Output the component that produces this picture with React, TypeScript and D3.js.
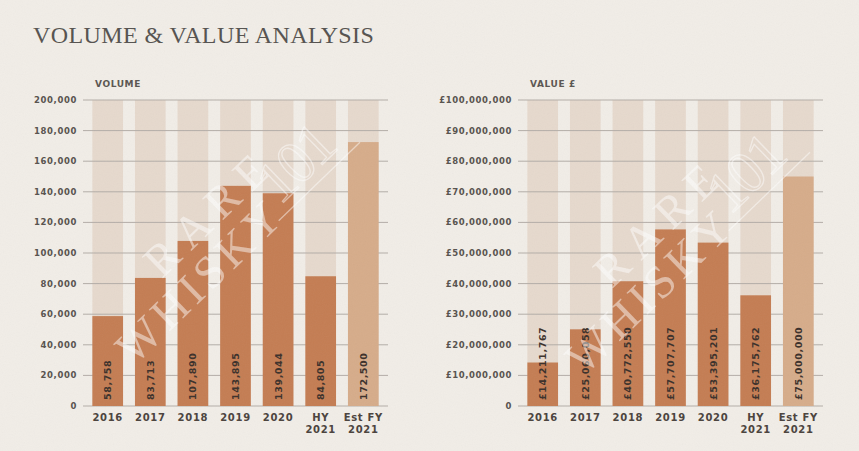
import * as d3 from 'd3';

const categories = ['2016', '2017', '2018', '2019', '2020', 'HY 2021', 'Est FY 2021'];
const categoryLines = [['2016'], ['2017'], ['2018'], ['2019'], ['2020'], ['HY', '2021'], ['Est FY', '2021']];
const estimated = [false, false, false, false, false, false, true];
const volume = [58758, 83713, 107890, 143895, 139044, 84805, 172500];
const value = [14211767, 25060058, 40772550, 57707707, 53395201, 36175762, 75000000];
const volumeMax = 200000;
const valueMax = 100000000;

const W = 859;
const H = 451;
const SANS = "'DejaVu Sans', Verdana, sans-serif";
const SERIF = "'Liberation Serif', 'DejaVu Serif', serif";

const comma = d3.format(',');

interface PanelProps {
  left: number;
  header: string;
  data: number[];
  max: number;
  tickFmt: (v: number) => string;
  labelFmt: (v: number) => string;
}

// faint "RARE WHISKY 101" logo laid across each panel
const Watermark = ({ dx, dy }: { dx: number; dy: number }) => (
  <g transform={`translate(${134 + dx},${366 + dy}) rotate(-44)`} fill="#fff" opacity={0.48} pointerEvents="none">
    <text x={0} y={0} fontFamily={SERIF} fontSize={46} letterSpacing={5}>WHISKY</text>
    <text x={80} y={-43} fontFamily={SERIF} fontSize={46} letterSpacing={10}>RARE</text>
    <text x={216} y={-14} fontFamily={SERIF} fontSize={60} fill="none" stroke="#fff" strokeWidth={1.3} letterSpacing={-3}>101</text>
    <line x1={205} y1={-4} x2={318} y2={-4} stroke="#fff" strokeWidth={1.3} />
  </g>
);

const Panel = ({ left, header, data, max, tickFmt, labelFmt }: PanelProps) => {
  const x = d3.scaleBand<string>().domain(categories).range([left, left + 305]).paddingInner(0.28).paddingOuter(0.22);
  const y = d3.scaleLinear().domain([0, max]).range([406, 100]);
  const ticks = y.ticks(10);
  const bw = x.bandwidth();
  return (
    <g>
      <text x={left + 12} y={87} fontFamily={SANS} fontWeight="bold" fontSize={9} letterSpacing={0.6} fill="#5a5550">
        {header}
      </text>
      {categories.map((c) => (
        <rect key={`bg-${c}`} x={x(c)} y={y(max)} width={bw} height={y(0) - y(max)} fill="#e6d9cd" />
      ))}
      {ticks.map((t) => (
        <g key={`t-${t}`}>
          <line x1={left} x2={left + 305} y1={y(t)} y2={y(t)} stroke="#b3ada7" strokeWidth={1} />
          <text x={left - 6} y={y(t)} dy="0.35em" textAnchor="end" fontFamily={SANS} fontWeight="bold" fontSize={8.5} letterSpacing={0.6} fill="#57524d">
            {tickFmt(t)}
          </text>
        </g>
      ))}
      {categories.map((c, i) => (
        <rect key={`b-${c}`} x={x(c)} y={y(data[i])} width={bw} height={y(0) - y(data[i])} fill={estimated[i] ? '#d6ac8a' : '#c47d53'} />
      ))}
      {categories.map((c, i) => {
        const cx = (x(c) as number) + bw / 2;
        return (
          <text key={`l-${c}`} transform={`translate(${cx + 3.5},${400}) rotate(-90)`} fontFamily={SANS} fontWeight="bold" fontSize={9.5} letterSpacing={0.6} fill="#3b302a">
            {labelFmt(data[i])}
          </text>
        );
      })}
      {categories.map((c, i) => {
        const cx = (x(c) as number) + bw / 2;
        return (
          <text key={`c-${c}`} x={cx} y={421} textAnchor="middle" fontFamily={SANS} fontWeight="bold" fontSize={10} letterSpacing={0.7} fill="#4a423c">
            {categoryLines[i].map((ln, j) => (
              <tspan key={j} x={cx} dy={j === 0 ? 0 : 11.5}>{ln}</tspan>
            ))}
          </text>
        );
      })}
    </g>
  );
};

export default function App() {
  return (
    <div style={{ position: 'absolute', left: 0, top: 0, width: W, height: H }}>
      <svg width={W} height={H} viewBox={`0 0 ${W} ${H}`}>
        <defs>
          <filter id="paper" x="0" y="0" width="100%" height="100%">
            <feTurbulence type="fractalNoise" baseFrequency="0.9" numOctaves={2} seed={3} />
            <feColorMatrix type="saturate" values="0" />
          </filter>
        </defs>
        <rect width={W} height={H} fill="#f1ede7" />
        <text x={33} y={43} fontFamily={SERIF} fontSize={24} letterSpacing={0.4} fill="#55524f">
          VOLUME &amp; VALUE ANALYSIS
        </text>
        <Panel left={83} header="VOLUME" data={volume} max={volumeMax} tickFmt={(v) => comma(v)} labelFmt={(v) => comma(v)} />
        <Panel left={518} header="VALUE £" data={value} max={valueMax} tickFmt={(v) => (v === 0 ? '0' : `£${comma(v)}`)} labelFmt={(v) => `£${comma(v)}`} />
        <Watermark dx={0} dy={0} />
        <Watermark dx={450} dy={10} />
        <rect width={W} height={H} filter="url(#paper)" opacity={0.05} />
      </svg>
    </div>
  );
}
